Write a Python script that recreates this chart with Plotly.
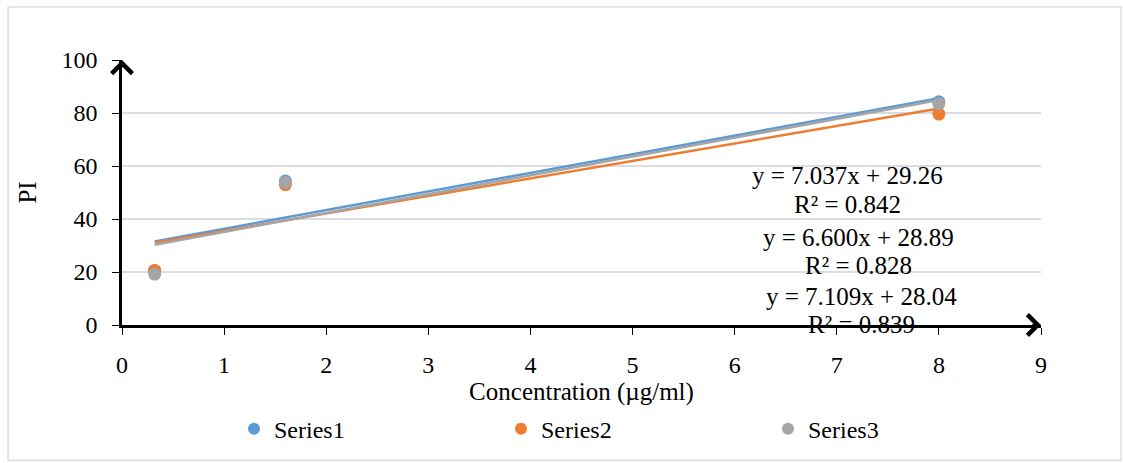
import plotly.graph_objects as go

concentration = [0.32, 1.6, 8]
series_names = ["Series1", "Series2", "Series3"]
series1 = [20.5, 54.3, 84.2]
series2 = [20.6, 53.0, 79.6]
series3 = [19.2, 53.8, 83.5]
slopes = [7.037, 6.600, 7.109]
intercepts = [29.26, 28.89, 28.04]
r_squared = [0.842, 0.828, 0.839]
x_ticks = list(range(0, 10))
y_ticks = [0, 20, 40, 60, 80, 100]

colors = ["#5B9BD5", "#ED7D31", "#A5A5A5"]
FONT = "Liberation Serif"

fig = go.Figure()
all_series = [series1, series2, series3]

for name, s, b, c in zip(series_names, slopes, intercepts, colors):
    xs = [min(concentration), max(concentration)]
    ys = [s * x + b for x in xs]
    fig.add_trace(go.Scatter(x=xs, y=ys, mode="lines", line=dict(color=c, width=2.5),
                             showlegend=False, hoverinfo="skip"))

for name, ys, c in zip(series_names, all_series, colors):
    fig.add_trace(go.Scatter(x=concentration, y=ys, mode="markers", name=name,
                             marker=dict(color=c, size=13)))

PX0, PX1, PY0, PY1 = 122, 1041, 325, 60
eq_y = [175, 237, 296]
r2_y = [204, 265, 324]
eq_x = [847, 858, 861]
for s, b, r2, ey, ry, lx in zip(slopes, intercepts, r_squared, eq_y, r2_y, eq_x):
    for txt, yy in ((f"y = {s:.3f}x + {b:.2f}", ey), (f"R² = {r2:.3f}", ry)):
        fig.add_annotation(xref="paper", yref="paper",
                           x=(lx - PX0) / (PX1 - PX0), y=(PY0 - yy) / (PY0 - PY1),
                           text=txt, showarrow=False,
                           font=dict(family=FONT, size=25, color="black"),
                           xanchor="center", yanchor="middle")

fig.add_annotation(x=0, y=100, ax=0, ay=97, xref="x", yref="y", axref="x", ayref="y",
                   showarrow=True, arrowhead=4, arrowsize=2, arrowwidth=2, arrowcolor="black", text="")
fig.add_annotation(x=9, y=0, ax=8.9, ay=0, xref="x", yref="y", axref="x", ayref="y",
                   showarrow=True, arrowhead=4, arrowsize=2, arrowwidth=2, arrowcolor="black", text="")

fig.update_xaxes(range=[0, 9], tickvals=x_ticks, showgrid=False, zeroline=False, automargin=False,
                 showline=True, linecolor="black", linewidth=2.5,
                 ticks="outside", ticklen=7, tickcolor="black", tickwidth=1,
                 ticklabelstandoff=9,
                 tickfont=dict(family=FONT, size=24, color="black"),
                 title=dict(text="Concentration (µg/ml)", font=dict(family=FONT, size=25, color="black"),
                            standoff=2))
fig.update_yaxes(range=[0, 100], tickvals=y_ticks, showgrid=True, gridcolor="#D9DDE3", gridwidth=1.5,
                 zeroline=False, automargin=False, showline=True, linecolor="black", linewidth=2.5,
                 ticks="outside", ticklen=7, tickcolor="black", tickwidth=1,
                 ticklabelstandoff=10,
                 tickfont=dict(family=FONT, size=24, color="black"),
                 title=dict(text="PI", font=dict(family=FONT, size=25, color="black"), standoff=18))

fig.update_layout(
    width=1123, height=463,
    margin=dict(l=122, r=82, t=60, b=138, autoexpand=False),
    plot_bgcolor="white", paper_bgcolor="white",
    font=dict(family=FONT, color="black"),
    legend=dict(orientation="h", x=0.5 + 53 / 919, xanchor="center", y=-0.308, yanchor="top",
                bgcolor="rgba(0,0,0,0)",
                font=dict(family=FONT, size=24, color="black"),
                entrywidth=222, entrywidthmode="pixels", itemsizing="constant"),
    shapes=[dict(type="rect", xref="paper", yref="paper", x0=-0.124, x1=1.087, y0=-0.51, y1=1.2,
                 line=dict(color="#D9DDE3", width=1.5), fillcolor="rgba(0,0,0,0)", layer="below")],
)

fig.write_html("out.html")
